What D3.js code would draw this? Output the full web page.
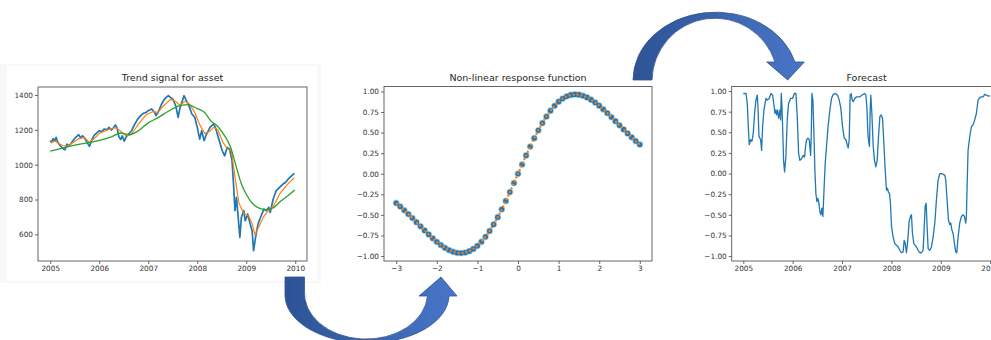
<!DOCTYPE html>
<html><head><meta charset="utf-8">
<script src="https://cdn.jsdelivr.net/npm/d3@7"></script>
<style>body{margin:0;background:#fff}svg{display:block}</style>
</head><body>
<script>
// ---------- DATA ----------
const priceYears = [2005.00,2005.03,2005.06,2005.09,2005.12,2005.15,2005.20,2005.27,2005.30,2005.34,2005.38,2005.42,2005.47,2005.53,2005.58,2005.62,2005.66,2005.71,2005.75,2005.80,2005.84,2005.90,2005.95,2006.00,2006.05,2006.10,2006.15,2006.20,2006.25,2006.29,2006.33,2006.37,2006.40,2006.44,2006.47,2006.51,2006.55,2006.60,2006.66,2006.72,2006.78,2006.84,2006.90,2006.96,2007.00,2007.07,2007.13,2007.16,2007.20,2007.26,2007.31,2007.36,2007.41,2007.46,2007.50,2007.56,2007.61,2007.65,2007.70,2007.73,2007.78,2007.83,2007.89,2007.95,2008.00,2008.05,2008.09,2008.14,2008.19,2008.26,2008.33,2008.37,2008.44,2008.51,2008.56,2008.61,2008.66,2008.71,2008.74,2008.77,2008.80,2008.83,2008.87,2008.90,2008.95,2008.98,2009.03,2009.08,2009.12,2009.15,2009.19,2009.24,2009.29,2009.36,2009.41,2009.46,2009.49,2009.55,2009.61,2009.68,2009.75,2009.80,2009.86,2009.93,2009.98];
const priceValues = [1138,1128,1150,1135,1157,1130,1110,1090,1085,1118,1110,1120,1140,1160,1172,1155,1166,1150,1128,1105,1138,1170,1182,1195,1190,1205,1200,1214,1199,1212,1228,1205,1160,1145,1166,1135,1160,1176,1195,1230,1260,1280,1295,1300,1310,1320,1300,1282,1300,1340,1367,1385,1396,1385,1377,1339,1272,1329,1370,1396,1367,1339,1291,1272,1214,1147,1195,1138,1176,1214,1233,1214,1147,1080,1051,1099,1090,1023,889,736,812,717,583,697,736,678,717,659,621,506,583,659,697,745,736,755,726,803,850,870,889,898,918,937,950];
const fastYears = [2005.00,2005.10,2005.25,2005.35,2005.45,2005.58,2005.70,2005.80,2005.90,2006.00,2006.15,2006.33,2006.45,2006.55,2006.65,2006.78,2006.95,2007.10,2007.20,2007.32,2007.45,2007.55,2007.65,2007.75,2007.85,2007.95,2008.05,2008.15,2008.25,2008.33,2008.42,2008.52,2008.62,2008.70,2008.77,2008.85,2008.95,2009.05,2009.12,2009.18,2009.25,2009.35,2009.45,2009.55,2009.70,2009.85,2009.98];
const fastValues = [1128,1135,1110,1105,1125,1150,1155,1128,1150,1180,1198,1212,1190,1165,1172,1225,1285,1305,1300,1340,1375,1365,1340,1365,1345,1300,1230,1180,1190,1214,1200,1130,1090,1075,930,780,720,705,660,595,640,700,735,760,840,890,925];
const slowYears = [2005.00,2005.25,2005.50,2005.75,2006.00,2006.25,2006.45,2006.60,2006.80,2007.00,2007.20,2007.40,2007.60,2007.80,2008.00,2008.15,2008.28,2008.40,2008.55,2008.68,2008.78,2008.90,2009.00,2009.12,2009.25,2009.40,2009.55,2009.70,2009.85,2009.99];
const slowValues = [1078,1095,1112,1125,1140,1160,1182,1172,1195,1240,1270,1305,1335,1345,1322,1300,1250,1225,1170,1100,1005,890,830,780,752,742,752,790,822,855];

const respX = [-3.0,-2.9,-2.8,-2.7,-2.6,-2.5,-2.4,-2.3,-2.2,-2.1,-2.0,-1.9,-1.8,-1.7,-1.6,-1.5,-1.4,-1.3,-1.2,-1.1,-1.0,-0.9,-0.8,-0.7,-0.6,-0.5,-0.4,-0.3,-0.2,-0.1,0.0,0.1,0.2,0.3,0.4,0.5,0.6,0.7,0.8,0.9,1.0,1.1,1.2,1.3,1.4,1.5,1.6,1.7,1.8,1.9,2.0,2.1,2.2,2.3,2.4,2.5,2.6,2.7,2.8,2.9,3.0];
const respY = [-0.3553,-0.3980,-0.4432,-0.4903,-0.5390,-0.5888,-0.6389,-0.6886,-0.7371,-0.7835,-0.8267,-0.8659,-0.8997,-0.9274,-0.9479,-0.9603,-0.9637,-0.9573,-0.9407,-0.9133,-0.8751,-0.8259,-0.7660,-0.6958,-0.6161,-0.5278,-0.4318,-0.3296,-0.2225,-0.1121,0,0.1121,0.2225,0.3296,0.4318,0.5278,0.6161,0.6958,0.7660,0.8259,0.8751,0.9133,0.9407,0.9573,0.9637,0.9603,0.9479,0.9274,0.8997,0.8659,0.8267,0.7835,0.7371,0.6886,0.6389,0.5888,0.5390,0.4903,0.4432,0.3980,0.3553];

const fcYears = [2005.000,2005.054,2005.081,2005.101,2005.121,2005.148,2005.175,2005.202,2005.229,2005.256,2005.283,2005.297,2005.317,2005.351,2005.371,2005.391,2005.418,2005.459,2005.486,2005.526,2005.560,2005.594,2005.621,2005.641,2005.661,2005.675,2005.695,2005.715,2005.742,2005.755,2005.769,2005.782,2005.796,2005.816,2005.836,2005.863,2005.890,2005.917,2005.958,2005.998,2006.032,2006.066,2006.093,2006.120,2006.147,2006.180,2006.214,2006.241,2006.261,2006.282,2006.309,2006.336,2006.363,2006.376,2006.390,2006.410,2006.430,2006.450,2006.470,2006.491,2006.511,2006.531,2006.551,2006.572,2006.592,2006.612,2006.632,2006.659,2006.686,2006.720,2006.754,2006.787,2006.821,2006.868,2006.909,2006.943,2006.976,2007.010,2007.044,2007.078,2007.104,2007.125,2007.145,2007.165,2007.185,2007.206,2007.226,2007.260,2007.293,2007.361,2007.428,2007.462,2007.482,2007.503,2007.523,2007.543,2007.556,2007.570,2007.583,2007.604,2007.631,2007.658,2007.685,2007.712,2007.739,2007.766,2007.793,2007.820,2007.847,2007.874,2007.900,2007.921,2007.941,2007.961,2007.981,2008.002,2008.035,2008.069,2008.103,2008.137,2008.170,2008.204,2008.238,2008.258,2008.278,2008.305,2008.332,2008.359,2008.386,2008.406,2008.427,2008.454,2008.481,2008.508,2008.541,2008.575,2008.609,2008.642,2008.663,2008.683,2008.703,2008.723,2008.744,2008.777,2008.811,2008.845,2008.879,2008.912,2008.946,2008.980,2009.013,2009.047,2009.081,2009.101,2009.128,2009.155,2009.182,2009.202,2009.223,2009.250,2009.277,2009.303,2009.324,2009.351,2009.384,2009.418,2009.452,2009.479,2009.506,2009.519,2009.533,2009.553,2009.587,2009.621,2009.654,2009.688,2009.722,2009.755,2009.789,2009.823,2009.857,2009.890,2009.924,2009.958,2009.992];
const fcValues = [0.97,0.97,0.85,0.57,0.35,0.41,0.39,0.49,0.73,0.89,0.95,0.81,0.45,0.41,0.28,0.57,0.77,0.91,0.89,0.91,0.97,0.95,0.83,0.73,0.77,0.71,0.77,0.67,0.77,0.65,0.97,0.83,0.57,0.16,0.02,0.20,0.65,0.85,0.91,0.91,0.97,0.97,0.69,0.24,0.16,0.18,0.22,0.20,0.33,0.41,0.43,0.41,0.22,0.45,0.97,0.89,0.49,0.04,-0.24,-0.34,-0.30,-0.36,-0.46,-0.50,-0.42,-0.52,-0.24,0.12,0.33,0.59,0.77,0.91,0.96,0.97,0.95,0.89,0.79,0.57,0.43,0.41,0.35,0.31,0.41,0.95,0.97,0.89,0.87,0.91,0.93,0.93,0.96,0.97,0.95,0.81,0.49,0.37,0.33,0.77,0.95,0.73,0.33,0.16,0.08,0.16,0.45,0.69,0.71,0.67,0.37,0.04,-0.20,-0.18,-0.23,-0.24,-0.36,-0.64,-0.77,-0.85,-0.87,-0.89,-0.93,-0.96,-0.95,-0.81,-0.84,-0.96,-0.81,-0.58,-0.52,-0.50,-0.73,-0.85,-0.87,-0.89,-0.93,-0.96,-0.96,-0.93,-0.68,-0.40,-0.36,-0.64,-0.91,-0.93,-0.89,-0.77,-0.60,-0.32,-0.08,0.00,0.00,-0.01,-0.02,-0.08,-0.32,-0.56,-0.62,-0.60,-0.68,-0.73,-0.85,-0.95,-0.96,-0.77,-0.60,-0.52,-0.50,-0.52,-0.60,-0.52,-0.16,0.28,0.45,0.57,0.59,0.65,0.73,0.89,0.92,0.93,0.93,0.96,0.95,0.94,0.94];

const p1XTicks = [2005,2006,2007,2008,2009,2010];
const p1YTicks = [600,800,1000,1200,1400];
const p2XTicks = [-3,-2,-1,0,1,2,3];
const p2YTicks = [-1.00,-0.75,-0.50,-0.25,0.00,0.25,0.50,0.75,1.00];
const p3XTicks = [2005,2006,2007,2008,2009,2010];
const p3YTicks = [-1.00,-0.75,-0.50,-0.25,0.00,0.25,0.50,0.75,1.00];
const titles = ["Trend signal for asset","Non-linear response function","Forecast"];

// ---------- DRAW ----------
const W = 991, H = 340;
const svg = d3.select("body").append("svg").attr("width", W).attr("height", H);
const defs = svg.append("defs");
const grad = defs.append("linearGradient").attr("id","arrowGrad").attr("x1","0").attr("x2","1").attr("y1","0").attr("y2","0");
grad.append("stop").attr("offset","0").attr("stop-color","#2d5395");
grad.append("stop").attr("offset","1").attr("stop-color","#4876c8");

const C = {blue:"#1f77b4", orange:"#ff7f0e", green:"#2ca02c"};
const FONT = "DejaVu Sans, sans-serif";

// faint background of the first figure
svg.append("rect").attr("x",0).attr("y",64).attr("width",321).attr("height",219).attr("fill","#f8f8f8");
svg.append("rect").attr("x",7).attr("y",66).attr("width",310).attr("height",215).attr("fill","#ffffff");

function panel(box, xs, ys, xTicks, yTicks, xFmt, yFmt, title, id) {
  const g = svg.append("g");
  defs.append("clipPath").attr("id", id).append("rect")
    .attr("x", box.x0).attr("y", box.y0).attr("width", box.x1 - box.x0).attr("height", box.y1 - box.y0);
  const ax = d3.axisBottom(xs).tickValues(xTicks).tickFormat(xFmt).tickSize(3).tickPadding(2);
  const ay = d3.axisLeft(ys).tickValues(yTicks).tickFormat(yFmt).tickSize(3).tickPadding(2);
  const gx = g.append("g").attr("transform", `translate(0,${box.y1})`).call(ax);
  const gy = g.append("g").attr("transform", `translate(${box.x0},0)`).call(ay);
  [gx, gy].forEach(a => {
    a.select(".domain").remove();
    a.selectAll(".tick line").attr("stroke", "#444").attr("stroke-width", 0.8);
    a.selectAll(".tick text").attr("fill", "#333").style("font-family", FONT).style("font-size", "7.3px");
  });
  g.append("text").attr("x", (box.x0 + box.x1) / 2).attr("y", box.y0 - 6)
    .attr("text-anchor", "middle").attr("fill", "#262626")
    .style("font-family", FONT).style("font-size", "9.5px").text(title);
  const plot = svg.append("g").attr("clip-path", `url(#${id})`);
  svg.append("rect").attr("x", box.x0).attr("y", box.y0)
    .attr("width", box.x1 - box.x0).attr("height", box.y1 - box.y0)
    .attr("fill", "none").attr("stroke", "#555").attr("stroke-width", 0.9);
  return plot;
}

// Panel 1
const b1 = {x0:38, x1:307, y0:87, y1:261};
const x1s = d3.scaleLinear().domain([2004.75, 2010.24]).range([b1.x0, b1.x1]);
const y1s = d3.scaleLinear().domain([447, 1446]).range([b1.y1, b1.y0]);
const pl1 = panel(b1, x1s, y1s, p1XTicks, p1YTicks, d3.format("d"), d3.format("d"), titles[0], "c1");
const line1 = d3.line().x(d => x1s(d[0])).y(d => y1s(d[1]));
pl1.append("path").attr("d", line1(d3.zip(priceYears, priceValues))).attr("fill","none")
  .attr("stroke", C.blue).attr("stroke-width", 1.7).attr("stroke-linejoin","round");
pl1.append("path").attr("d", line1(d3.zip(fastYears, fastValues))).attr("fill","none")
  .attr("stroke", C.orange).attr("stroke-width", 1.2).attr("stroke-linejoin","round");
pl1.append("path").attr("d", d3.line().curve(d3.curveMonotoneX).x(d => x1s(d[0])).y(d => y1s(d[1]))(d3.zip(slowYears, slowValues))).attr("fill","none")
  .attr("stroke", C.green).attr("stroke-width", 1.3);

// Panel 2
const b2 = {x0:384, x1:652, y0:86.5, y1:261};
const x2s = d3.scaleLinear().domain([-3.3, 3.3]).range([b2.x0, b2.x1]);
const y2s = d3.scaleLinear().domain([-1.06, 1.06]).range([b2.y1, b2.y0]);
const pl2 = panel(b2, x2s, y2s, p2XTicks, p2YTicks, d3.format("d"), d3.format(".2f"), titles[1], "c2");
const resp = d3.zip(respX, respY);
pl2.selectAll("circle").data(resp).join("circle")
  .attr("cx", d => x2s(d[0])).attr("cy", d => y2s(d[1])).attr("r", 2.6)
  .attr("fill", C.blue).attr("stroke", "rgba(31,119,180,0.35)").attr("stroke-width", 1.6);
pl2.append("path").attr("d", d3.line().x(d => x2s(d[0])).y(d => y2s(d[1]))(resp)).attr("fill","none")
  .attr("stroke", C.orange).attr("stroke-width", 2.2).attr("stroke-dasharray", "2 2");

// Panel 3
const b3 = {x0:731.7, x1:1001.5, y0:86.5, y1:261};
const x3s = d3.scaleLinear().domain([2004.765, 2010.23]).range([b3.x0, b3.x1]);
const y3s = d3.scaleLinear().domain([-1.06, 1.055]).range([b3.y1, b3.y0]);
const pl3 = panel(b3, x3s, y3s, p3XTicks, p3YTicks, d3.format("d"), d3.format(".2f"), titles[2], "c3");
pl3.append("path").attr("d", d3.line().x(d => x3s(d[0])).y(d => y3s(d[1]))(d3.zip(fcYears, fcValues))).attr("fill","none")
  .attr("stroke", C.blue).attr("stroke-width", 1.3).attr("stroke-linejoin","round");

// Curved arrows
svg.append("path")
  .attr("d", "M285,277 L304.5,277 L304.5,290 A61.5,46 0 0,0 427.5,296 L419,296 L441,277 L457,296 L449,296 A82,48 0 0,1 285,294 Z")
  .attr("fill", "url(#arrowGrad)").attr("stroke", "#2f528f").attr("stroke-width", 0.8);
svg.append("path")
  .attr("d", "M633,80 A82.5,68 0 0,1 795,62 L804.3,62 L787.7,80 L766.7,62 L775,62 A63,63 0 0,0 652,80 Z")
  .attr("fill", "url(#arrowGrad)").attr("stroke", "#2f528f").attr("stroke-width", 0.8);
</script>
</body></html>
